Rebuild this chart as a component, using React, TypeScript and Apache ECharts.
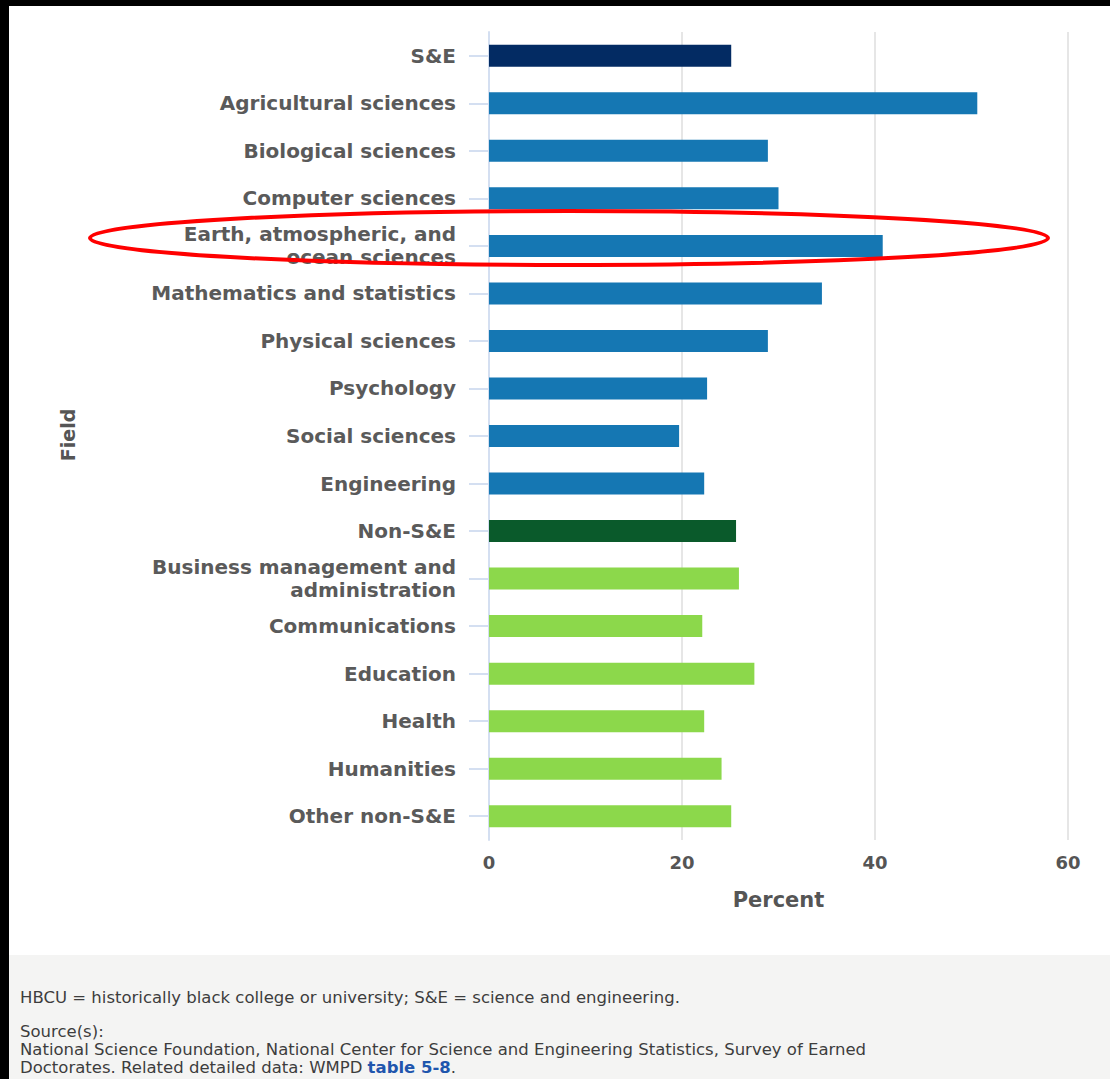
import React, { useEffect, useRef } from "react";
import * as echarts from "echarts";

const categories = [
  "S&E",
  "Agricultural sciences",
  "Biological sciences",
  "Computer sciences",
  "Earth, atmospheric, and\nocean sciences",
  "Mathematics and statistics",
  "Physical sciences",
  "Psychology",
  "Social sciences",
  "Engineering",
  "Non-S&E",
  "Business management and\nadministration",
  "Communications",
  "Education",
  "Health",
  "Humanities",
  "Other non-S&E",
];

const percentValues = [
  25.1, 50.6, 28.9, 30.0, 40.8, 34.5, 28.9, 22.6, 19.7, 22.3, 25.6, 25.9, 22.1,
  27.5, 22.3, 24.1, 25.1,
];

const fieldGroups = [
  "seTotal", "se", "se", "se", "se", "se", "se", "se", "se", "se",
  "nonTotal", "non", "non", "non", "non", "non", "non",
];

const xTicks = [0, 20, 40, 60];

const noteText =
  "HBCU = historically black college or university; S&E = science and engineering.";
const sourceTitle = "Source(s):";
const sourceLine1 =
  "National Science Foundation, National Center for Science and Engineering Statistics, Survey of Earned";
const sourceLine2a = "Doctorates. Related detailed data: WMPD ";
const sourceLink = "table 5-8";
const sourceLine2b = ".";

const groupColors: Record<string, string> = {
  seTotal: "#032b63",
  se: "#1577b3",
  nonTotal: "#0a5a2b",
  non: "#8cd84b",
};

const FONT = "DejaVu Sans";

export default function App() {
  const ref = useRef<HTMLDivElement>(null);

  useEffect(() => {
    if (!ref.current) return;
    const chart = echarts.init(ref.current, undefined, { renderer: "svg" });
    const footerStyle = {
      fontSize: 16.5,
      lineHeight: 17,
      fontFamily: FONT,
      fill: "#3d3d3d",
      verticalAlign: "middle",
    };
    const option: any = {
      animation: false,
      backgroundColor: "#ffffff",
      grid: { left: 480, right: 42, top: 26, bottom: 239, containLabel: false },
      xAxis: {
        type: "value",
        min: xTicks[0],
        max: xTicks[xTicks.length - 1],
        interval: 20,
        axisLine: { show: false },
        axisTick: { show: false },
        splitLine: { show: true, lineStyle: { color: "#e6e6e6", width: 2 } },
        axisLabel: {
          margin: 13,
          fontSize: 18,
          fontWeight: "bold",
          color: "#555555",
          fontFamily: FONT,
        },
        name: "Percent",
        nameLocation: "middle",
        nameGap: 49,
        nameTextStyle: {
          fontSize: 21,
          fontWeight: "bold",
          color: "#555555",
          fontFamily: FONT,
        },
      },
      yAxis: {
        type: "category",
        inverse: true,
        data: categories,
        axisLine: { show: true, lineStyle: { color: "#d4dff1", width: 2 } },
        axisTick: {
          show: true,
          alignWithLabel: true,
          length: 20,
          lineStyle: { color: "#d4dff1", width: 2 },
        },
        splitLine: { show: false },
        axisLabel: {
          margin: 33,
          fontSize: 20,
          lineHeight: 23,
          fontWeight: "bold",
          color: "#5a5a5a",
          fontFamily: FONT,
          align: "right",
        },
      },
      series: [
        {
          type: "bar",
          barWidth: 22,
          data: percentValues.map((v, i) => ({
            value: v,
            itemStyle: { color: groupColors[fieldGroups[i]] },
          })),
        },
      ],
      graphic: [
        {
          type: "text",
          x: 59,
          y: 429,
          rotation: Math.PI / 2,
          style: {
            text: "Field",
            fontSize: 19,
            fontWeight: "bold",
            fontFamily: FONT,
            fill: "#555555",
            align: "center",
            verticalAlign: "middle",
          },
        },
        {
          type: "ellipse",
          z: 100,
          shape: { cx: 560, cy: 232, rx: 479, ry: 27 },
          style: { fill: "transparent", stroke: "#ff0000", lineWidth: 4 },
        },
        {
          type: "rect",
          z: -1,
          shape: { x: 0, y: 949, width: 1101, height: 124 },
          style: { fill: "#f4f4f3" },
        },
        {
          type: "text",
          x: 11,
          y: 991,
          style: { ...footerStyle, text: noteText },
        },
        {
          type: "text",
          x: 11,
          y: 1025,
          style: { ...footerStyle, text: sourceTitle },
        },
        {
          type: "text",
          x: 11,
          y: 1043,
          style: { ...footerStyle, text: sourceLine1 },
        },
        {
          type: "text",
          x: 11,
          y: 1061,
          style: {
            text: `{a|${sourceLine2a}}{b|${sourceLink}}{a|${sourceLine2b}}`,
            verticalAlign: "middle",
            rich: {
              a: { fontSize: 16.5, lineHeight: 17, fontFamily: FONT, fill: "#3d3d3d" },
              b: {
                fontSize: 16.5,
                lineHeight: 17,
                fontFamily: FONT,
                fontWeight: "bold",
                fill: "#1f56ad",
              },
            },
          },
        },
      ],
    };
    chart.setOption(option);
    return () => chart.dispose();
  }, []);

  return (
    <div
      style={{
        position: "fixed",
        left: 0,
        top: 0,
        width: 1110,
        height: 1079,
        background: "#000000",
        overflow: "hidden",
      }}
    >
      <div
        ref={ref}
        style={{ position: "absolute", left: 9, top: 6, width: 1101, height: 1073 }}
      />
    </div>
  );
}
